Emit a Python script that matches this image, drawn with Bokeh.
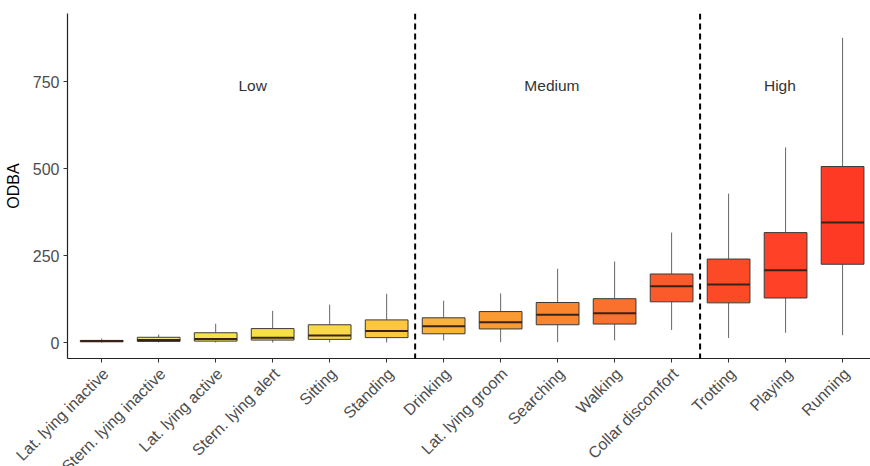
import math
from bokeh.plotting import figure
from bokeh.layouts import column
from bokeh.models import Span, FixedTicker, ColumnDataSource, Range1d
from bokeh.core.properties import value
from bokeh.embed import file_html
from bokeh.resources import INLINE

# Behaviours ordered by activity level
behaviours = ["Lat. lying inactive", "Stern. lying inactive", "Lat. lying active",
              "Stern. lying alert", "Sitting", "Standing", "Drinking",
              "Lat. lying groom", "Searching", "Walking", "Collar discomfort",
              "Trotting", "Playing", "Running"]

# ODBA box statistics per behaviour
lower = [0, 0, 0, 0, 0, 0, 6, 1, 1, 6, 36, 13, 28, 21]
q1 = [2, 3, 4, 7, 9, 14, 25, 39, 51, 53, 117, 114, 128, 225]
median = [4, 7, 10, 14, 20, 33, 47, 58, 80, 84, 162, 167, 208, 345]
q3 = [6, 15, 28, 40, 51, 65, 71, 89, 115, 126, 197, 240, 316, 506]
upper = [11, 23, 54, 91, 109, 140, 120, 141, 212, 233, 316, 428, 561, 876]

fills = ["#F6EE78", "#F4E679", "#F5E34A", "#F6DF4A", "#F9D849", "#FCC63F",
         "#FBB23A", "#FA9A33", "#F9862F", "#F9712C", "#FB5A2A", "#FC4A27",
         "#FE4127", "#FF3A24"]

# Activity groups: label and its position along the behaviour axis
group_labels = ["Low", "Medium", "High"]
group_centres = [3.65, 8.9, 12.9]
group_breaks = [6.5, 11.5]

xs = list(range(1, len(behaviours) + 1))
src = ColumnDataSource(dict(x=xs, lower=lower, q1=q1, median=median, q3=q3,
                            upper=upper, fill=fills))

FONT = "Liberation Sans"
W, H = 870, 466
LEFT = 67            # left border of the main plot frame
TOP_H = 364          # main panel (plot frame + axis line/ticks)
LABEL_H = H - TOP_H  # strip carrying the rotated behaviour names
X0, X1 = 0.4, 14.49

x_range = Range1d(X0, X1)

p = figure(width=W, height=TOP_H, output_backend="svg", toolbar_location=None,
           x_range=x_range, y_range=(-46, 946),
           min_border_left=LEFT, min_border_right=0, min_border_top=13,
           min_border_bottom=6)
p.frame_align = False
p.outline_line_color = None
p.background_fill_color = "white"
p.border_fill_color = "white"
p.xgrid.visible = False
p.ygrid.visible = False

# whiskers
p.segment(x0="x", y0="q3", x1="x", y1="upper", source=src, line_color="#666666", line_width=1)
p.segment(x0="x", y0="lower", x1="x", y1="q1", source=src, line_color="#666666", line_width=1)
# boxes
p.vbar(x="x", width=0.75, bottom="q1", top="q3", source=src, fill_color="fill",
       line_color="#3a3a3a", line_width=1)
# medians
src_med = ColumnDataSource(dict(x0=[x - 0.375 for x in xs], x1=[x + 0.375 for x in xs], m=median))
p.segment(x0="x0", y0="m", x1="x1", y1="m", source=src_med, line_color="#3b2218", line_width=2)

for b in group_breaks:
    p.add_layout(Span(location=b, dimension="height", line_color="black",
                      line_width=2, line_dash="6 4"))

p.text(x=group_centres, y=[740] * 3, text=group_labels, text_align="center",
       text_baseline="middle", text_font=value(FONT), text_font_size="15.5px",
       text_color="#333333")

# axes
p.xaxis.ticker = FixedTicker(ticks=xs)
p.xaxis.major_label_overrides = {x: "" for x in xs}
p.xaxis.major_label_text_font_size = "0px"
p.xaxis.major_label_standoff = 0
p.yaxis.ticker = FixedTicker(ticks=[0, 250, 500, 750])
p.yaxis.axis_label = "ODBA"
for ax in (p.xaxis, p.yaxis):
    ax.axis_line_color = "#222222"
    ax.axis_line_width = 1.2
    ax.major_tick_line_color = "#333333"
    ax.major_tick_in = 0
    ax.major_tick_out = 4
    ax.minor_tick_line_color = None
p.yaxis.major_label_text_font = FONT
p.yaxis.major_label_text_font_size = "16px"
p.yaxis.major_label_text_color = "#4d4d4d"
p.yaxis.major_label_standoff = 4
p.yaxis.axis_label_text_font = FONT
p.yaxis.axis_label_text_font_size = "16px"
p.yaxis.axis_label_text_font_style = "normal"
p.yaxis.axis_label_text_color = "black"
p.yaxis.axis_label_standoff = 8

# strip below: rotated behaviour names on the same x scale, spanning the full
# width so long names can run under the y axis; y is in pixels
units_per_px = (X1 - X0) / (W - LEFT)
lab = figure(width=W, height=LABEL_H, output_backend="svg", toolbar_location=None,
             x_range=(X0 - LEFT * units_per_px, X1), y_range=(-LABEL_H, 0),
             x_axis_location=None, y_axis_location=None,
             min_border_left=0, min_border_right=0, min_border_top=0,
             min_border_bottom=0)
lab.frame_align = False
lab.grid.visible = False
lab.outline_line_color = None
lab.background_fill_color = "white"
lab.border_fill_color = "white"
lab.text(x=xs, y=[-0.5] * len(xs), text=behaviours, angle=math.pi / 4,
         text_align="right", text_baseline="top", x_offset=-2,
         text_font=value(FONT), text_font_size="16px", text_color="#4d4d4d")

layout = column(p, lab, spacing=0)
open("out.html", "w").write(file_html(layout, INLINE))
